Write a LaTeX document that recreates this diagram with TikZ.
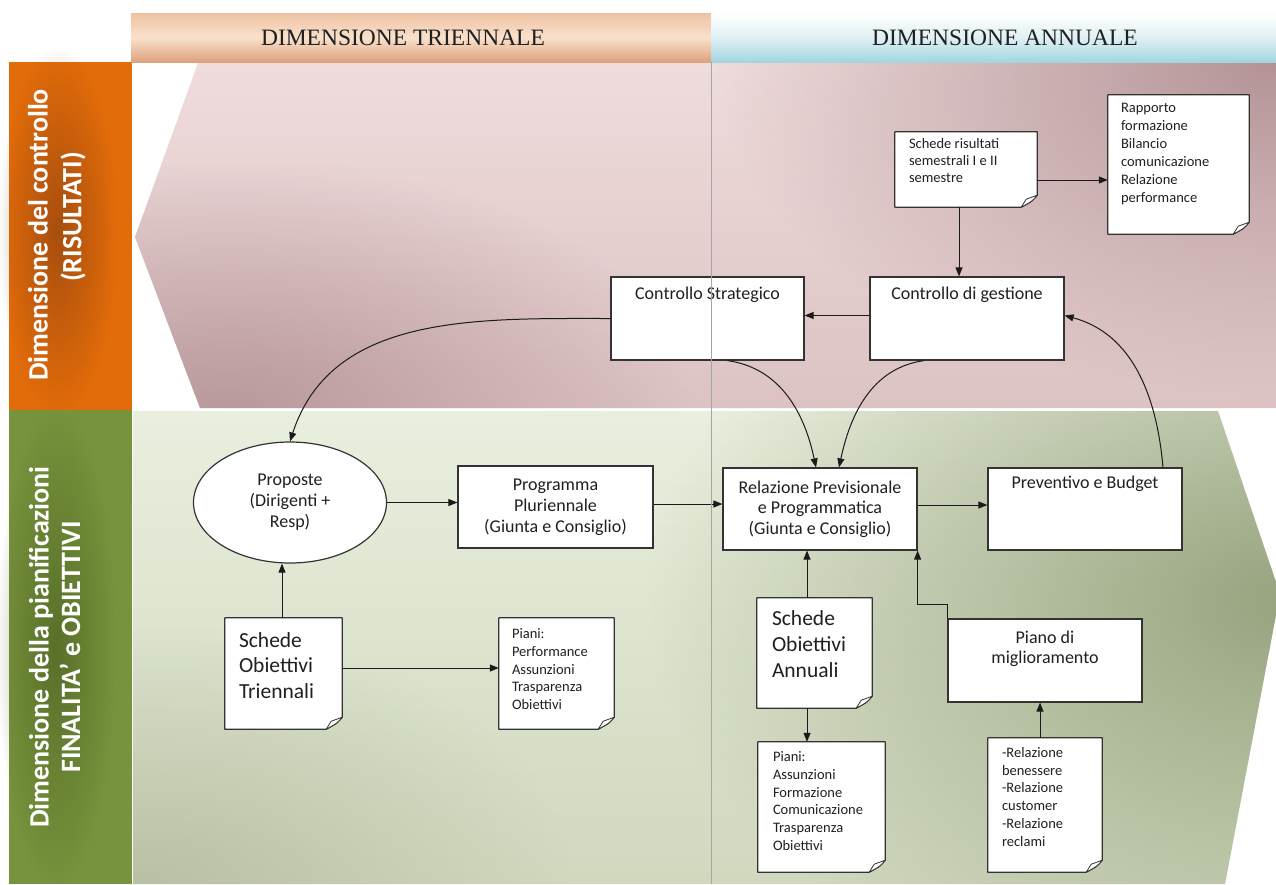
\documentclass[tikz,border=0pt]{standalone}
\usepackage{fontspec}
\setmainfont{Carlito}
\newfontfamily\headfont{Liberation Serif}
\usetikzlibrary{arrows.meta,shapes.geometric,fadings}
\pgfdeclarelayer{back}
\pgfdeclarelayer{frames}
\pgfsetlayers{back,frames,main}
\definecolor{linec}{HTML}{333333}
\definecolor{txtc}{HTML}{202020}
\definecolor{arrc}{HTML}{1A1A1A}
\definecolor{pinkL}{HTML}{EFDCDC}
\definecolor{pinkM}{HTML}{DCC2C3}
\definecolor{pinkD}{HTML}{AD8B8F}
\definecolor{greenL}{HTML}{E9EFDE}
\definecolor{greenM}{HTML}{D0D8BE}
\definecolor{greenD}{HTML}{93A07A}
\definecolor{greenB}{HTML}{A9B293}
\definecolor{orangeB}{HTML}{E36C0A}
\definecolor{orangeG}{HTML}{8E4210}
\definecolor{oliveB}{HTML}{77933C}
\definecolor{oliveG}{HTML}{4C6122}
\definecolor{peachT}{HTML}{EDC2A2}
\definecolor{peachM}{HTML}{FAE1CC}
\definecolor{peachB}{HTML}{DDA27C}
\definecolor{blueT}{HTML}{FFFFFF}
\definecolor{blueM}{HTML}{E0F0F4}
\definecolor{blueB}{HTML}{A3D5DF}
\tikzfading[name=glow, inner color=transparent!0, outer color=transparent!100]
\newcommand\fs[2]{\fontsize{#1}{#2}\selectfont}
\newcommand\docframe[1]{%
  \path[docline] (#1.north west) -- (#1.north east) -- ([yshift=12pt]#1.south east)
     .. controls ([xshift=-5pt,yshift=6pt]#1.south east) .. ([xshift=-16pt]#1.south east)
     -- (#1.south west) -- cycle;
  \path[foldline] ([xshift=-16pt]#1.south east) -- ([xshift=-11pt,yshift=8pt]#1.south east)
     -- ([yshift=12pt]#1.south east)
     .. controls ([xshift=-5pt,yshift=6pt]#1.south east) .. ([xshift=-16pt]#1.south east) -- cycle;
}
\begin{document}
\begin{tikzpicture}[x=1pt,y=-1pt,
  box/.style={draw=linec, fill=white, line width=1.2pt, inner sep=0pt, text=txtc},
  doc/.style={draw=none, inner sep=0pt},
  lab/.style={inner sep=0pt, text=txtc},
  arr/.style={draw=arrc, line width=1pt, -{Triangle[length=9pt,width=7pt]}},
  docline/.style={draw=linec, fill=white, line width=1.2pt, line join=round},
  foldline/.style={draw=linec, fill=white, line width=0.8pt, line join=round},
  side/.style={rotate=90, text=white, font=\fs{28}{32}\bfseries, inner sep=0pt},
  divider/.style={draw=gray!70, line width=0.8pt},
]
\useasboundingbox (0,0) rectangle (1276,884);

\begin{pgfonlayer}{back}
  \fill[white] (0,0) rectangle (1276,884);
  % pink control region
  \begin{scope}
    \clip (198,63) -- (1276,63) -- (1276,408) -- (200,408) -- (135,237) -- cycle;
    \shade[top color=pinkL, bottom color=pinkM] (130,63) rectangle (1276,408);
    \fill[pinkD, path fading=glow, fill opacity=0.9] (1276,63) ellipse [x radius=560pt, y radius=330pt];
    \fill[pinkD, path fading=glow, fill opacity=0.75] (230,408) ellipse [x radius=460pt, y radius=250pt];
  \end{scope}
  % green planning region
  \begin{scope}
    \clip (133,411) -- (1218,411) -- (1276,582) -- (1276,615) -- (1225,884) -- (133,884) -- cycle;
    \shade[top color=greenL, bottom color=greenM] (133,411) rectangle (1276,884);
    \fill[greenD, path fading=glow, fill opacity=0.95] (1290,600) ellipse [x radius=640pt, y radius=420pt];
    \fill[greenB, path fading=glow, fill opacity=0.6] (150,884) ellipse [x radius=420pt, y radius=260pt];
  \end{scope}
  % left bands
  \fill[orangeB] (9,62) rectangle (132,410);
  \fill[orangeG, path fading=glow, fill opacity=0.7] (58,232) ellipse [x radius=60pt, y radius=185pt];
  \fill[oliveB] (9,410) rectangle (132,884);
  \fill[oliveG, path fading=glow, fill opacity=0.7] (56,647) ellipse [x radius=60pt, y radius=240pt];
\end{pgfonlayer}

% headers
\node[minimum width=580, minimum height=49, inner sep=0pt,
      top color=peachT, bottom color=peachB, middle color=peachM,
      label={[text=txtc, font=\headfont\fs{23.5}{26}, xshift=-18pt]center:DIMENSIONE TRIENNALE}]
      (htri) at (421,37.5) {};
\node[minimum width=565, minimum height=49, inner sep=0pt,
      top color=blueT, bottom color=blueB, middle color=blueM,
      label={[text=txtc, font=\headfont\fs{23.5}{26}, xshift=11.5pt]center:DIMENSIONE ANNUALE}]
      (hann) at (993.5,37.5) {};

% side titles
\node[side] (sc1) at (38,235) {Dimensione del controllo};
\node[side] (sc2) at (73,217) {(RISULTATI)};
\node[side] (sp1) at (41,647) {Dimensione della pianificazioni};
\node[side] (sp2) at (70,647) {FINALITA’ e OBIETTIVI};

% ---- control region nodes
\node[doc, minimum width=142, minimum height=75,
      label={[lab,anchor=north west,xshift=14pt,yshift=-6.5pt,align=left,font=\fs{14.5}{17}]north west:{Schede risultati\\semestrali I e II\\semestre}}]
      (sr) at (966,169.5) {};
\node[doc, minimum width=141, minimum height=139,
      label={[lab,anchor=north west,xshift=13pt,yshift=-8.5pt,align=left,font=\fs{14.5}{18}]north west:{Rapporto\\formazione\\Bilancio\\comunicazione\\Relazione\\performance}}]
      (rap) at (1178.5,164.5) {};
\node[box, minimum width=194, minimum height=83,
      label={[lab,anchor=north,yshift=-10pt,font=\fs{18}{21}]north:Controllo di gestione}]
      (cg) at (967,318.5) {};
\node[box, minimum width=193, minimum height=83,
      label={[lab,anchor=north,yshift=-10pt,font=\fs{18}{21}]north:Controllo Strategico}]
      (cs) at (707.5,318.5) {};

% ---- planning region nodes
\node[ellipse, draw=linec, fill=white, line width=1.2pt, inner sep=0pt, text=txtc,
      minimum width=193, minimum height=121, align=center, font=\fs{18}{21}]
      (prop) at (290,502.5) {Proposte\\(Dirigenti +\\Resp)};
\node[box, minimum width=195, minimum height=82, align=center, font=\fs{18}{21}]
      (prog) at (555.5,507) {Programma\\Pluriennale\\(Giunta e Consiglio)};
\node[box, minimum width=194, minimum height=82, align=center, font=\fs{18}{20.5}]
      (rel) at (820,509) {Relazione Previsionale\\e Programmatica\\(Giunta e Consiglio)};
\node[box, minimum width=194, minimum height=82,
      label={[lab,anchor=north,yshift=-8pt,font=\fs{18}{21}]north:Preventivo e Budget}]
      (prev) at (1085,509) {};
\node[doc, minimum width=117, minimum height=111,
      label={[lab,anchor=north west,xshift=14pt,yshift=-14.3pt,align=left,font=\fs{21.5}{25.5}]north west:{Schede\\Obiettivi\\Triennali}}]
      (sot) at (283.5,673.5) {};
\node[doc, minimum width=115, minimum height=111,
      label={[lab,anchor=north west,xshift=13pt,yshift=-10.5pt,align=left,font=\fs{14.5}{17.8}]north west:{Piani:\\Performance\\Assunzioni\\Trasparenza\\Obiettivi}}]
      (pt) at (556.5,673.5) {};
\node[doc, minimum width=115, minimum height=110,
      label={[lab,anchor=north west,xshift=15pt,yshift=-12.3pt,align=left,font=\fs{21.5}{26}]north west:{Schede\\Obiettivi\\Annuali}}]
      (soa) at (814.5,653) {};
\node[doc, minimum width=127, minimum height=130,
      label={[lab,anchor=north west,xshift=15pt,yshift=-9.5pt,align=left,font=\fs{14.5}{17.8}]north west:{Piani:\\Assunzioni\\Formazione\\Comunicazione\\Trasparenza\\Obiettivi}}]
      (pa) at (821.5,807) {};
\node[box, minimum width=194, minimum height=83,
      label={[lab,anchor=north,yshift=-12pt,align=center,font=\fs{18}{20}]north:{Piano di\\miglioramento}}]
      (pm) at (1045,660.5) {};
\node[doc, minimum width=114, minimum height=134,
      label={[lab,anchor=north west,xshift=14pt,yshift=-9.5pt,align=left,font=\fs{14.5}{17.7}]north west:{-Relazione\\benessere\\-Relazione\\customer\\-Relazione\\reclami}}]
      (rb) at (1045,805) {};

\begin{pgfonlayer}{frames}
  \docframe{sr}
  \docframe{rap}
  \docframe{sot}
  \docframe{pt}
  \docframe{soa}
  \docframe{pa}
  \docframe{rb}
\end{pgfonlayer}

% ---- connectors
\draw[arr] ([xshift=-7pt]sr.south) -- ([xshift=-7pt]sr.south |- cg.north);
\draw[arr] ([yshift=-10.5pt]sr.east) -- ([yshift=-10.5pt]sr.east -| rap.west);
\draw[arr] ([yshift=3pt]cg.west) -- ([yshift=3pt]cg.west -| cs.east);
\draw[arr] (cs.west) to[out=180,in=72] (prop.north);
\draw[arr] ([xshift=20pt]cs.south) to[out=-8,in=102] ([xshift=-4pt]rel.north);
\draw[arr] ([xshift=-43pt]cg.south) to[out=188,in=78] ([xshift=19pt]rel.north);
\draw[arr] ([xshift=78pt]prev.north) to[out=95,in=-15] ([yshift=3pt]cg.east);

\draw[arr] (prop.east) -- (prop.east -| prog.west);
\draw[arr] ([yshift=3pt]prog.east) -- ([yshift=3pt]prog.east -| rel.west);
\draw[arr] ([yshift=4pt]rel.east) -- ([yshift=4pt]rel.east -| prev.west);
\draw[arr] ([xshift=-1.5pt]sot.north) -- ([xshift=-1.5pt]sot.north |- prop.south);
\draw[arr] ([yshift=5.5pt]sot.east) -- ([yshift=5.5pt]sot.east -| pt.west);
\draw[arr] ([xshift=-7.5pt]soa.north) -- ([xshift=-7.5pt]soa.north |- rel.south);
\draw[arr] ([xshift=-7.5pt]soa.south) -- ([xshift=-7.5pt]soa.south |- pa.north);
\draw[arr] (pm.north west) -- ([yshift=14pt]pm.north west) -| (rel.south east);
\draw[arr] ([xshift=-5pt]rb.north) -- ([xshift=-5pt]rb.north |- pm.south);

% divider between triennial and annual
\draw[divider] (711,62) -- (711,884);
\end{tikzpicture}
\end{document}
